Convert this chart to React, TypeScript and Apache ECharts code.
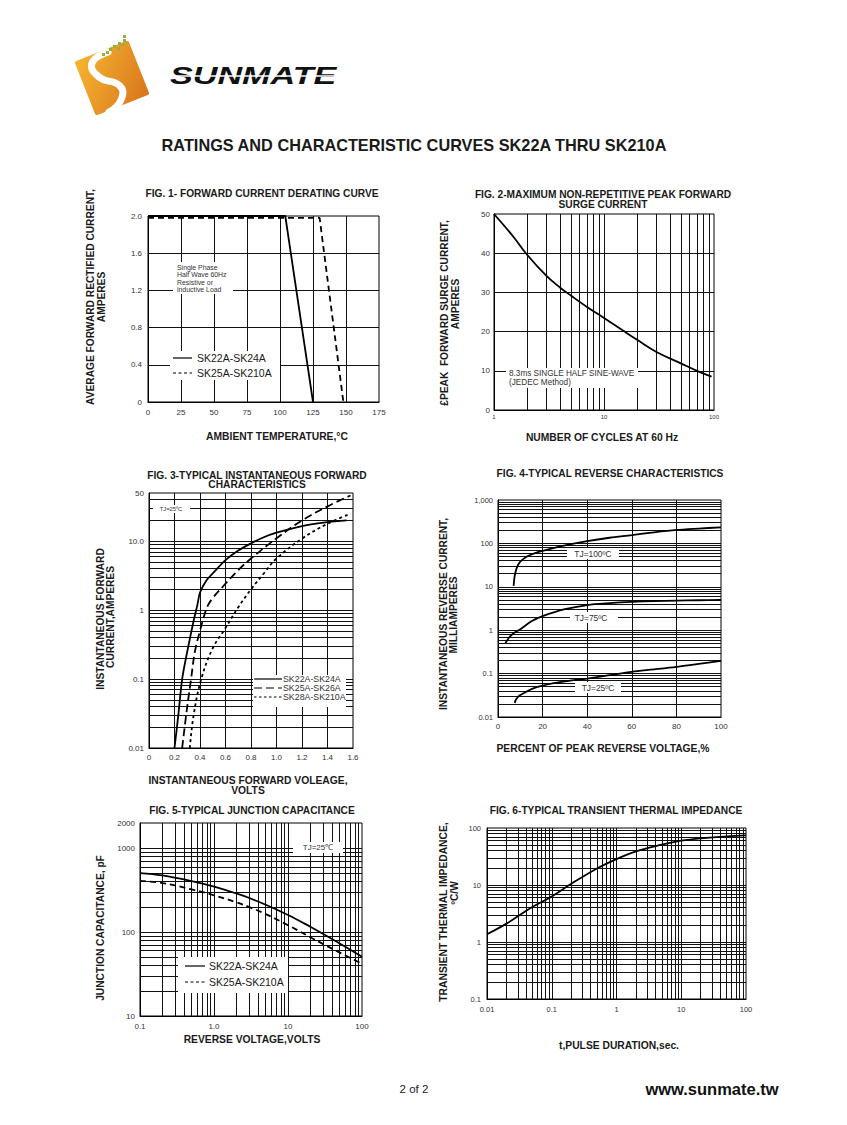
import React, { useEffect, useRef } from 'react';
import * as echarts from 'echarts';

const FONT = 'Liberation Sans, Arial, Helvetica, sans-serif';

// ---------- Fig 1 : forward current derating ----------
const fig1XTicks = [0, 25, 50, 75, 100, 125, 150, 175];
const fig1YTicks = [0, 0.4, 0.8, 1.2, 1.6, 2.0];
const fig1TempA = [0, 104, 125];
const fig1CurA = [2.0, 2.0, 0];
const fig1TempB = [0, 130, 148];
const fig1CurB = [1.98, 1.98, 0];

// ---------- Fig 2 : peak surge current ----------
const fig2XTicks = [1, 10, 100];
const fig2YTicks = [0, 10, 20, 30, 40, 50];
const fig2Cycles = [1, 1.5, 2, 3, 4, 5, 7, 10, 15, 20, 30, 50, 70, 95];
const fig2Surge = [50, 44.2, 39.6, 34.2, 31.2, 29.2, 26.3, 23.5, 20.2, 17.9, 14.8, 11.9, 10.0, 8.5];

// ---------- Fig 3 : forward characteristics ----------
const fig3XTicks = [0, 0.2, 0.4, 0.6, 0.8, 1.0, 1.2, 1.4, 1.6];
const fig3YTicks = [0.01, 0.1, 1, 10, 50];
const fig3YLabels = ['0.01', '0.1', '1', '10.0', '50'];
const fig3VA = [0.2, 0.23, 0.26, 0.3, 0.35, 0.38, 0.4, 0.45, 0.5, 0.6, 0.7, 0.8, 0.9, 1.0, 1.2, 1.4, 1.55];
const fig3IA = [0.01, 0.03, 0.1, 0.25, 0.7, 1.2, 1.8, 2.7, 3.4, 5.3, 7.3, 9.3, 11.4, 13.3, 16.6, 18.9, 20];
const fig3VB = [0.26, 0.3, 0.33, 0.36, 0.4, 0.43, 0.46, 0.5, 0.58, 0.7, 0.8, 1.0, 1.2, 1.4, 1.58];
const fig3IB = [0.01, 0.04, 0.1, 0.25, 0.5, 0.8, 1.15, 1.5, 2.2, 3.8, 5.6, 11, 20, 32, 46];
const fig3VC = [0.32, 0.35, 0.41, 0.5, 0.6, 0.7, 0.8, 0.9, 1.0, 1.2, 1.4, 1.58];
const fig3IC = [0.01, 0.03, 0.1, 0.28, 0.55, 1.1, 2.0, 3.4, 5.6, 10.9, 17.9, 25];

// ---------- Fig 4 : reverse characteristics ----------
const fig4XTicks = [0, 20, 40, 60, 80, 100];
const fig4YTicks = [0.01, 0.1, 1, 10, 100, 1000];
const fig4YLabels = ['0.01', '0.1', '1', '10', '100', '1,000'];
const fig4P100 = [7, 7.5, 8.5, 10, 13, 16, 20, 30, 40, 50, 60, 70, 80, 90, 100];
const fig4I100 = [10.5, 18, 28, 38, 50, 58, 67, 90, 113, 135, 155, 180, 204, 220, 235];
const fig4P75 = [3.3, 5, 7, 10, 15, 20, 30, 40, 50, 60, 70, 80, 90, 100];
const fig4I75 = [0.5, 0.68, 0.85, 1.05, 1.6, 2.1, 3.05, 3.8, 4.2, 4.5, 4.7, 4.8, 4.9, 5.0];
const fig4P25 = [7.5, 8, 9, 10, 15, 20, 30, 40, 50, 60, 70, 80, 90, 100];
const fig4I25 = [0.021, 0.025, 0.029, 0.032, 0.044, 0.053, 0.066, 0.077, 0.092, 0.11, 0.125, 0.143, 0.168, 0.196];

// ---------- Fig 5 : junction capacitance ----------
const fig5XTicks = [0.1, 1, 10, 100];
const fig5XLabels = ['0.1', '1.0', '10', '100'];
const fig5YTicks = [10, 100, 1000, 2000];
const fig5YLabels = ['10', '100', '1000', '2000'];
const fig5Volt = [0.1, 0.2, 0.5, 1, 2, 3, 5, 10, 20, 30, 50, 100];
const fig5CapA = [505, 474, 405, 348, 289, 255, 212, 160, 116, 95, 73, 51];
const fig5CapB = [409, 385, 323, 275, 227, 199, 164, 121, 87, 72, 57, 42];

// ---------- Fig 6 : transient thermal impedance ----------
const fig6XTicks = [0.01, 0.1, 1, 10, 100];
const fig6XLabels = ['0.01', '0.1', '1', '10', '100'];
const fig6YTicks = [0.1, 1, 10, 100];
const fig6YLabels = ['0.1', '1', '10', '100'];
const fig6Time = [0.01, 0.02, 0.05, 0.1, 0.2, 0.5, 1, 2, 5, 10, 20, 50, 100];
const fig6Imp = [1.37, 2.1, 4.1, 6.3, 10.5, 19.5, 28.5, 39, 51, 60, 66, 71, 74];

// ---------- grid lines (axis divisions) ----------
const mantissa = [1, 2, 3, 4, 5, 6, 7, 8, 9];
const logLines = (decades: number[], lo: number, hi: number) => {
  const out: number[] = [];
  decades.forEach((d) => mantissa.forEach((m) => {
    const v = +(m * d).toPrecision(3);
    if (v > lo * 1.0001 && v < hi * 0.9999) out.push(v);
  }));
  return out;
};
const fig1GridX = [25, 50, 75, 100, 125, 150];
const fig1GridY = [0.4, 0.8, 1.2, 1.6];
const fig2GridX = logLines([1, 10], 1, 100);
const fig2GridY = [10, 20, 30, 40];
const fig3GridX = [0.2, 0.4, 0.6, 0.8, 1.0, 1.2, 1.4];
const fig3GridY = logLines([0.01, 0.1, 1, 10], 0.01, 50);
const fig4GridX = [20, 40, 60, 80];
const fig4GridY = logLines([0.01, 0.1, 1, 10, 100], 0.01, 1000);
const fig5GridX = logLines([0.1, 1, 10], 0.1, 100);
const fig5GridY = logLines([10, 100, 1000], 10, 2000);
const fig6GridX = logLines([0.01, 0.1, 1, 10], 0.01, 100);
const fig6GridY = logLines([0.1, 1, 10], 0.1, 100);

const zip = (a: number[], b: number[]) => a.map((v, i) => [v, b[i]]);

const lookup = (ticks: number[], labels: string[]) => (v: number) => {
  for (let i = 0; i < ticks.length; i++) {
    if (Math.abs(Math.log10(v / ticks[i])) < 1e-4) return labels[i];
  }
  return '';
};

const gridMark = (xs: number[], ys: number[]) => ({
  silent: true,
  symbol: 'none',
  label: { show: false },
  emphasis: { disabled: true },
  lineStyle: { color: '#111', width: 1, type: 'solid' },
  data: [...xs.map((v) => ({ xAxis: v })), ...ys.map((v) => ({ yAxis: v }))],
});

function txt(text: string, x: number, y: number, size: number, o: any = {}) {
  const align = o.align || 'center';
  return {
    type: 'text', x, y, z: 40, rotation: o.rot || 0, scaleX: o.sx || 1, scaleY: o.sy || 1,
    style: {
      text, fontSize: size, fontFamily: o.family || FONT,
      fontWeight: o.bold ? 'bold' : 'normal', fontStyle: o.italic ? 'italic' : 'normal',
      fill: o.color || '#1a1a1a',
      textAlign: align, align, textVerticalAlign: 'middle', verticalAlign: 'middle',
    },
  };
}
const box = (x: number, y: number, w: number, h: number) => ({
  type: 'rect', z: 35, shape: { x, y, width: w, height: h }, style: { fill: '#fff' },
});
const seg = (x1: number, y1: number, x2: number, y2: number, dash?: number[], w = 1.2) => ({
  type: 'line', z: 40, shape: { x1, y1, x2, y2 },
  style: { stroke: '#000', lineWidth: w, lineDash: dash || null },
});

export default function App() {
  const ref = useRef<HTMLDivElement>(null);
  useEffect(() => {
    if (!ref.current) return;
    const chart = echarts.init(ref.current, undefined, { renderer: 'svg' });

    const grids = [
      { left: 148, top: 216, width: 231, height: 186 },
      { left: 494, top: 214, width: 220, height: 196 },
      { left: 149, top: 493, width: 204, height: 255 },
      { left: 498, top: 500, width: 223, height: 217 },
      { left: 140, top: 823, width: 222, height: 193 },
      { left: 487, top: 828, width: 259, height: 171 },
    ].map((g) => ({ ...g, show: true, borderColor: '#000', borderWidth: 1, backgroundColor: 'transparent' }));

    const base = (gi: number, size: number, margin: number) => ({
      gridIndex: gi,
      axisLine: { show: true, onZero: false, lineStyle: { color: '#000', width: 1 } },
      axisTick: { show: false },
      splitLine: { show: false },
      minorSplitLine: { show: false },
      axisLabel: { fontSize: size, color: '#333', fontFamily: FONT, margin },
    });
    const withFmt = (ax: any, f: (v: number) => string) => ({ ...ax, axisLabel: { ...ax.axisLabel, formatter: f } });

    const xAxis = [
      withFmt({ ...base(0, 8, 6), type: 'value', min: 0, max: 175, interval: 25 }, (v) => String(v)),
      withFmt({ ...base(1, 6, 4), type: 'log', logBase: 10, min: 1, max: 100 }, lookup(fig2XTicks, ['1', '10', '100'])),
      withFmt({ ...base(2, 8, 5), type: 'value', min: 0, max: 1.6, interval: 0.2 }, (v) => (v === 0 ? '0' : v.toFixed(1))),
      withFmt({ ...base(3, 8, 5), type: 'value', min: 0, max: 100, interval: 20 }, (v) => String(v)),
      withFmt({ ...base(4, 8, 6), type: 'log', logBase: 10, min: 0.1, max: 100 }, lookup(fig5XTicks, fig5XLabels)),
      withFmt({ ...base(5, 7.5, 6), type: 'log', logBase: 10, min: 0.01, max: 100 }, lookup(fig6XTicks, fig6XLabels)),
    ];
    const yAxis = [
      withFmt({ ...base(0, 8, 6), type: 'value', min: 0, max: 2.0, interval: 0.4 }, (v) => (v === 0 ? '0' : v.toFixed(1))),
      withFmt({ ...base(1, 8, 4), type: 'value', min: 0, max: 50, interval: 10 }, (v) => String(v)),
      withFmt({ ...base(2, 8, 5), type: 'log', logBase: 10, min: 0.01, max: 50 }, lookup(fig3YTicks, fig3YLabels)),
      withFmt({ ...base(3, 7.5, 5), type: 'log', logBase: 10, min: 0.01, max: 1000 }, lookup(fig4YTicks, fig4YLabels)),
      withFmt({ ...base(4, 8, 5), type: 'log', logBase: 10, min: 10, max: 2000 }, lookup(fig5YTicks, fig5YLabels)),
      withFmt({ ...base(5, 7.5, 6), type: 'log', logBase: 10, min: 0.1, max: 100 }, lookup(fig6YTicks, fig6YLabels)),
    ];

    const curve = (gi: number, name: string, data: number[][], dash: any, smooth: number | boolean, mark?: any) => ({
      type: 'line', name, xAxisIndex: gi, yAxisIndex: gi, data,
      symbol: 'none', showSymbol: false, smooth, clip: true, z: 5,
      lineStyle: { color: '#000', width: 1.8, type: dash },
      emphasis: { disabled: true },
      markLine: mark,
    });

    const series = [
      curve(0, 'SK22A-SK24A', zip(fig1TempA, fig1CurA), 'solid', false, gridMark(fig1GridX, fig1GridY)),
      curve(0, 'SK25A-SK210A', zip(fig1TempB, fig1CurB), [6, 4], false),
      curve(1, 'Surge', zip(fig2Cycles, fig2Surge), 'solid', 0.4, gridMark(fig2GridX, fig2GridY)),
      curve(2, 'SK22A-SK24A', zip(fig3VA, fig3IA), 'solid', 0.3, gridMark(fig3GridX, fig3GridY)),
      curve(2, 'SK25A-SK26A', zip(fig3VB, fig3IB), [8, 4], 0.4),
      curve(2, 'SK28A-SK210A', zip(fig3VC, fig3IC), [3, 3], 0.4),
      curve(3, 'TJ=100', zip(fig4P100, fig4I100), 'solid', 0.3, gridMark(fig4GridX, fig4GridY)),
      curve(3, 'TJ=75', zip(fig4P75, fig4I75), 'solid', 0.3),
      curve(3, 'TJ=25', zip(fig4P25, fig4I25), 'solid', 0.3),
      curve(4, 'SK22A-SK24A', zip(fig5Volt, fig5CapA), 'solid', 0.4, gridMark(fig5GridX, fig5GridY)),
      curve(4, 'SK25A-SK210A', zip(fig5Volt, fig5CapB), [6, 4], 0.4),
      curve(5, 'Zth', zip(fig6Time, fig6Imp), 'solid', 0.4, gridMark(fig6GridX, fig6GridY)),
    ];

    const R = Math.PI / 2;
    const dots = [[123, 35], [123, 39], [118, 42], [122, 43], [113, 45], [117, 47], [109, 48], [106, 51], [102, 53]];
    const graphics: any[] = [
      // logo
      {
        type: 'rect', z: 10, x: 112, y: 78, rotation: 0.377,
        shape: { x: -29, y: -29, width: 58, height: 58, r: 2 },
        style: {
          fill: { type: 'linear', x: 0, y: 0, x2: 1, y2: 1, colorStops: [{ offset: 0, color: '#F6B632' }, { offset: 1, color: '#D9751B' }] },
        },
      },
      {
        type: 'polyline', z: 11, shape: { points: [[108, 52], [92, 63], [99, 77], [120, 86], [121, 100], [109, 112]], smooth: 0.5 },
        style: { stroke: '#fff', lineWidth: 7, lineCap: 'round', fill: null },
      },
      ...dots.map(([x, y]) => ({ type: 'rect', z: 12, shape: { x, y, width: 3, height: 3 }, style: { fill: '#8DB33A' } })),
      txt('SUNMATE', 170, 76, 28, { bold: true, italic: true, align: 'left', sx: 1.22, sy: 0.85, color: '#111' }),
      { type: 'line', z: 45, shape: { x1: 168, y1: 76, x2: 342, y2: 76 }, style: { stroke: '#fff', lineWidth: 1.3 } },

      // page title
      txt('RATINGS AND CHARACTERISTIC CURVES SK22A THRU SK210A', 414, 145, 16.3, { bold: true }),

      // figure titles
      txt('FIG. 1- FORWARD CURRENT DERATING CURVE', 262, 193, 10.2, { bold: true }),
      txt('FIG. 2-MAXIMUM NON-REPETITIVE PEAK FORWARD', 603, 194, 10.2, { bold: true }),
      txt('SURGE CURRENT', 603, 204, 10.2, { bold: true }),
      txt('FIG. 3-TYPICAL INSTANTANEOUS FORWARD', 257, 475, 10.2, { bold: true }),
      txt('CHARACTERISTICS', 257, 484.5, 10.2, { bold: true }),
      txt('FIG. 4-TYPICAL REVERSE CHARACTERISTICS', 610, 473, 10.2, { bold: true }),
      txt('FIG. 5-TYPICAL JUNCTION CAPACITANCE', 252, 810, 10.2, { bold: true }),
      txt('FIG. 6-TYPICAL TRANSIENT THERMAL IMPEDANCE', 616, 810, 10.2, { bold: true }),

      // x axis titles
      txt('AMBIENT TEMPERATURE,°C', 277, 436, 10.3, { bold: true }),
      txt('NUMBER OF CYCLES AT 60 Hz', 602, 437, 10.3, { bold: true }),
      txt('INSTANTANEOUS FORWARD VOLEAGE,', 248, 780, 10.3, { bold: true }),
      txt('VOLTS', 248, 790, 10.3, { bold: true }),
      txt('PERCENT OF PEAK REVERSE VOLTAGE,%', 603, 748, 10.3, { bold: true }),
      txt('REVERSE VOLTAGE,VOLTS', 252, 1039, 10.3, { bold: true }),
      txt('t,PULSE DURATION,sec.', 619, 1045, 10.3, { bold: true }),

      // y axis titles
      txt('AVERAGE FORWARD RECTIFIED CURRENT,', 90, 297, 10.2, { bold: true, rot: R }),
      txt('AMPERES', 101, 297, 10.2, { bold: true, rot: R }),
      txt('£PEAK  FORWARD SURGE CURRENT,', 444, 313, 10.2, { bold: true, rot: R }),
      txt('AMPERES', 455, 304, 10.2, { bold: true, rot: R }),
      txt('INSTANTANEOUS FORWARD', 100, 619, 10.2, { bold: true, rot: R }),
      txt('CURRENT,AMPERES', 110, 617, 10.2, { bold: true, rot: R }),
      txt('INSTANTANEOUS REVERSE CURRENT,', 443, 614, 10.2, { bold: true, rot: R }),
      txt('MILLIAMPERES', 453, 615, 10.2, { bold: true, rot: R }),
      txt('JUNCTION CAPACITANCE, pF', 100, 928, 10.2, { bold: true, rot: R }),
      txt('TRANSIENT THERMAL IMPEDANCE,', 443, 912, 10.3, { bold: true, rot: R }),
      txt('ºC/W', 454, 893, 10.2, { bold: true, rot: R }),

      // fig 1 annotations
      box(173, 262, 60, 32),
      txt('Single Phase', 177, 267, 6.9, { align: 'left', color: '#333' }),
      txt('Half Wave 60Hz', 177, 274.5, 6.9, { align: 'left', color: '#333' }),
      txt('Resistive or', 177, 282, 6.9, { align: 'left', color: '#333' }),
      txt('inductive Load', 177, 289.5, 6.9, { align: 'left', color: '#333' }),
      box(170, 351, 110, 29),
      seg(173, 358, 192, 358),
      txt('SK22A-SK24A', 197, 358, 10.5, { align: 'left' }),
      seg(173, 373, 192, 373, [3, 2.5]),
      txt('SK25A-SK210A', 197, 373, 10.5, { align: 'left' }),

      // fig 2 annotation
      box(506, 368, 132, 20),
      txt('8.3ms SINGLE HALF SINE-WAVE', 509, 373, 8.2, { align: 'left', color: '#333' }),
      txt('(JEDEC Method)', 509, 382, 8.2, { align: 'left', color: '#333' }),

      // fig 3 annotations
      box(153, 505, 37, 8),
      txt('TJ=25ºC', 171, 509, 5.8, { color: '#333' }),
      box(253, 675, 93, 32),
      seg(254, 679, 282, 679),
      txt('SK22A-SK24A', 283, 679, 8.8, { align: 'left', color: '#333' }),
      seg(254, 688, 282, 688, [8, 4]),
      txt('SK25A-SK26A', 283, 688, 8.8, { align: 'left', color: '#333' }),
      seg(254, 697, 282, 697, [2.5, 2.5]),
      txt('SK28A-SK210A', 283, 697, 8.8, { align: 'left', color: '#333' }),

      // fig 4 annotations
      box(567, 548, 52, 11),
      txt('TJ=100ºC', 593, 554, 8.4, { color: '#333' }),
      box(570, 612, 48, 11),
      txt('TJ=75ºC', 591, 618, 8.4, { color: '#333' }),
      box(575, 682, 46, 11),
      txt('TJ=25ºC', 598, 688, 8.4, { color: '#333' }),

      // fig 5 annotations
      box(293, 842, 50, 11),
      txt('TJ=25℃', 318, 847, 8, { color: '#333' }),
      box(178, 957, 110, 36),
      seg(185, 966, 205, 966),
      txt('SK22A-SK24A', 209, 966, 10.5, { align: 'left' }),
      seg(185, 982, 205, 982, [3, 2.5]),
      txt('SK25A-SK210A', 209, 982, 10.5, { align: 'left' }),

      // footer
      txt('2 of 2', 414, 1089, 11.5, { color: '#222' }),
      txt('www.sunmate.tw', 712, 1089, 16.5, { bold: true, color: '#111' }),
    ];

    chart.setOption({
      animation: false,
      backgroundColor: '#fff',
      grid: grids,
      xAxis,
      yAxis,
      series,
      graphic: { elements: graphics },
    });
    return () => chart.dispose();
  }, []);

  return (
    <div
      ref={ref}
      style={{ position: 'absolute', left: 0, top: 0, width: 847, height: 1125, background: '#fff' }}
    />
  );
}
